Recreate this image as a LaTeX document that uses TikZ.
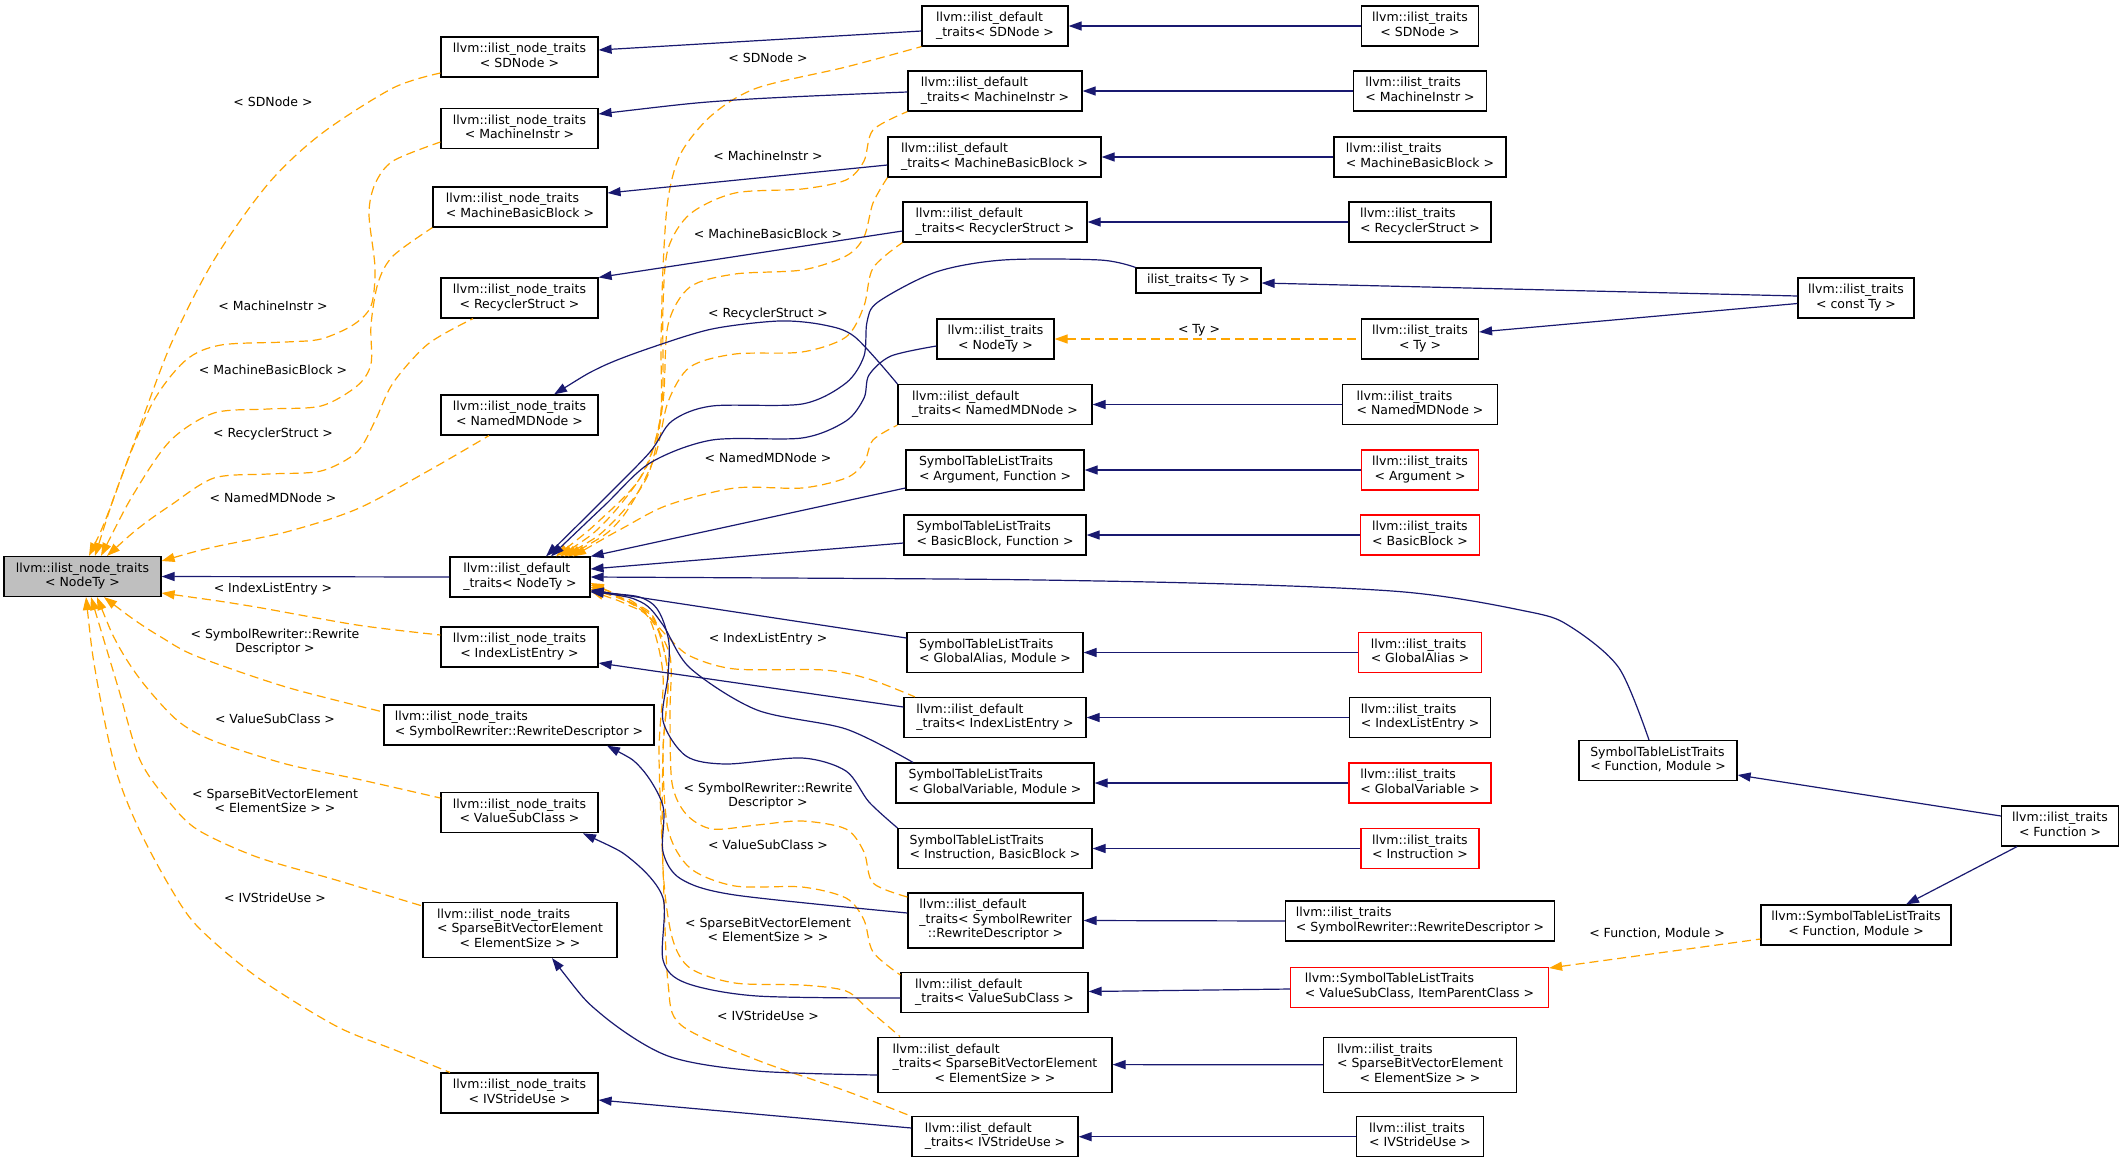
\documentclass[tikz,border=0pt]{standalone}
\usepackage{fontspec}
\newfontfamily\dvs{DejaVu Sans}
\usetikzlibrary{arrows.meta}
\definecolor{navy}{HTML}{191970}
\definecolor{orng}{HTML}{FFA500}
\definecolor{gfill}{HTML}{BFBFBF}
\newcommand\nf{\dvs\fontsize{12.5}{14.5}\selectfont}
\newcommand\twol[2]{\begin{tabular}{@{}l@{}}#1\\\multicolumn{1}{@{}c@{}}{#2}\end{tabular}}
\newcommand\threel[3]{\begin{tabular}{@{}l@{}}#1\\#2\\\multicolumn{1}{@{}c@{}}{#3}\end{tabular}}
\tikzset{
 cls/.style={draw=black, line width=1.2pt, fill=white, inner sep=0pt, font=\nf, minimum height=40pt},
 redcls/.style={cls, draw=red},
 tall/.style={minimum height=55pt},
 single/.style={minimum height=25pt},
 inh/.style={draw=navy, line width=1.2pt, {Triangle[length=13pt,width=9pt]}-},
 tmpl/.style={draw=orng, line width=1.2pt, dash pattern=on 9pt off 5pt, {Triangle[length=13pt,width=9pt]}-},
 lbl/.style={font=\nf, align=center, inner sep=0pt},
}
\begin{document}
\begin{tikzpicture}[x=1pt,y=-1pt]
\useasboundingbox (0,0) rectangle (2124,1163);
\fill[white] (0,0) rectangle (2124,1163);
% ---------- nodes ----------
\node[cls, fill=gfill, minimum width=157pt] (root) at (82.5,576.5) {\twol{llvm::ilist\_node\_traits}{< NodeTy >}};
\node[cls, minimum width=157pt] (ntSD) at (519.5,57) {\twol{llvm::ilist\_node\_traits}{< SDNode >}};
\node[cls, minimum width=157pt] (ntMI) at (519.5,128.5) {\twol{llvm::ilist\_node\_traits}{< MachineInstr >}};
\node[cls, minimum width=174pt] (ntMBB) at (520,207) {\twol{llvm::ilist\_node\_traits}{< MachineBasicBlock >}};
\node[cls, minimum width=157pt] (ntRS) at (519.5,298) {\twol{llvm::ilist\_node\_traits}{< RecyclerStruct >}};
\node[cls, minimum width=157pt] (ntNMD) at (519.5,415) {\twol{llvm::ilist\_node\_traits}{< NamedMDNode >}};
\node[cls, minimum width=140pt] (dtN) at (520,577) {\twol{llvm::ilist\_default}{\_traits< NodeTy >}};
\node[cls, minimum width=157pt] (ntILE) at (519.5,647) {\twol{llvm::ilist\_node\_traits}{< IndexListEntry >}};
\node[cls, minimum width=270pt] (ntSR) at (519,725) {\twol{llvm::ilist\_node\_traits}{< SymbolRewriter::RewriteDescriptor >}};
\node[cls, minimum width=157pt] (ntVS) at (519.5,812.7) {\twol{llvm::ilist\_node\_traits}{< ValueSubClass >}};
\node[cls, tall, minimum width=194pt] (ntSB) at (520,930) {\threel{llvm::ilist\_node\_traits}{< SparseBitVectorElement}{< ElementSize > >}};
\node[cls, minimum width=157pt] (ntIV) at (519.5,1093) {\twol{llvm::ilist\_node\_traits}{< IVStrideUse >}};

\node[cls, minimum width=146pt] (dtSD) at (995,26) {\twol{llvm::ilist\_default}{\_traits< SDNode >}};
\node[cls, minimum width=174pt] (dtMI) at (995,91) {\twol{llvm::ilist\_default}{\_traits< MachineInstr >}};
\node[cls, minimum width=213pt] (dtMBB) at (994.5,157) {\twol{llvm::ilist\_default}{\_traits< MachineBasicBlock >}};
\node[cls, minimum width=184pt] (dtRS) at (995,222) {\twol{llvm::ilist\_default}{\_traits< RecyclerStruct >}};
\node[cls, single, minimum width=125pt] (itTyS) at (1198.5,280.5) {ilist\_traits< Ty >};
\node[cls, minimum width=117pt] (itNodeTy) at (995.5,339) {\twol{llvm::ilist\_traits}{< NodeTy >}};
\node[cls, minimum width=194pt] (dtNMD) at (995,404.5) {\twol{llvm::ilist\_default}{\_traits< NamedMDNode >}};
\node[cls, minimum width=178pt] (stAF) at (995,470) {\twol{SymbolTableListTraits}{< Argument, Function >}};
\node[cls, minimum width=182pt] (stBF) at (995,535) {\twol{SymbolTableListTraits}{< BasicBlock, Function >}};
\node[cls, minimum width=176pt] (stGA) at (995,652.5) {\twol{SymbolTableListTraits}{< GlobalAlias, Module >}};
\node[cls, minimum width=182pt] (dtILE) at (995,717.5) {\twol{llvm::ilist\_default}{\_traits< IndexListEntry >}};
\node[cls, minimum width=198pt] (stGV) at (995,783) {\twol{SymbolTableListTraits}{< GlobalVariable, Module >}};
\node[cls, minimum width=194pt] (stIB) at (995,848.5) {\twol{SymbolTableListTraits}{< Instruction, BasicBlock >}};
\node[cls, tall, minimum width=175pt] (dtSR) at (995.5,920.5) {\threel{llvm::ilist\_default}{\_traits< SymbolRewriter}{::RewriteDescriptor >}};
\node[cls, minimum width=187pt] (dtVS) at (994.5,992.7) {\twol{llvm::ilist\_default}{\_traits< ValueSubClass >}};
\node[cls, tall, minimum width=234pt] (dtSB) at (995,1064.6) {\threel{llvm::ilist\_default}{\_traits< SparseBitVectorElement}{< ElementSize > >}};
\node[cls, minimum width=166pt] (dtIV) at (995,1136.7) {\twol{llvm::ilist\_default}{\_traits< IVStrideUse >}};

\node[cls, minimum width=117pt] (itSD) at (1420,26) {\twol{llvm::ilist\_traits}{< SDNode >}};
\node[cls, minimum width=133pt] (itMI) at (1420,91) {\twol{llvm::ilist\_traits}{< MachineInstr >}};
\node[cls, minimum width=172pt] (itMBB) at (1420,157) {\twol{llvm::ilist\_traits}{< MachineBasicBlock >}};
\node[cls, minimum width=142pt] (itRS) at (1420,222) {\twol{llvm::ilist\_traits}{< RecyclerStruct >}};
\node[cls, minimum width=117pt] (itTy) at (1420,339) {\twol{llvm::ilist\_traits}{< Ty >}};
\node[cls, minimum width=155pt] (itNMD) at (1420,404.5) {\twol{llvm::ilist\_traits}{< NamedMDNode >}};
\node[redcls, minimum width=117pt] (itArg) at (1420,470) {\twol{llvm::ilist\_traits}{< Argument >}};
\node[redcls, minimum width=119pt] (itBB) at (1420,535) {\twol{llvm::ilist\_traits}{< BasicBlock >}};
\node[redcls, minimum width=123pt] (itGA) at (1420,652.5) {\twol{llvm::ilist\_traits}{< GlobalAlias >}};
\node[cls, minimum width=141pt] (itILE) at (1420,717.5) {\twol{llvm::ilist\_traits}{< IndexListEntry >}};
\node[redcls, minimum width=142pt] (itGV) at (1420,783) {\twol{llvm::ilist\_traits}{< GlobalVariable >}};
\node[redcls, minimum width=118pt] (itIn) at (1420,848.5) {\twol{llvm::ilist\_traits}{< Instruction >}};
\node[cls, minimum width=269pt] (itSR) at (1420,921) {\twol{llvm::ilist\_traits}{< SymbolRewriter::RewriteDescriptor >}};
\node[redcls, minimum width=258pt] (stVI) at (1419.5,987.3) {\twol{llvm::SymbolTableListTraits}{< ValueSubClass, ItemParentClass >}};
\node[cls, tall, minimum width=193pt] (itSB) at (1420,1064.8) {\threel{llvm::ilist\_traits}{< SparseBitVectorElement}{< ElementSize > >}};
\node[cls, minimum width=127pt] (itIV) at (1420,1136.7) {\twol{llvm::ilist\_traits}{< IVStrideUse >}};

\node[cls, minimum width=116pt] (itCT) at (1856,298) {\twol{llvm::ilist\_traits}{< const Ty >}};
\node[cls, minimum width=158pt] (stFM) at (1658,760.6) {\twol{SymbolTableListTraits}{< Function, Module >}};
\node[cls, minimum width=190pt] (stFM2) at (1856,925) {\twol{llvm::SymbolTableListTraits}{< Function, Module >}};
\node[cls, minimum width=117pt] (itFn) at (2060,826) {\twol{llvm::ilist\_traits}{< Function >}};

% ---------- labels ----------
\node[lbl] (la1) at (273,102) {< SDNode >};
\node[lbl] (la2) at (273,306) {< MachineInstr >};
\node[lbl] (la3) at (273,370) {< MachineBasicBlock >};
\node[lbl] (la4) at (273,434) {< RecyclerStruct >};
\node[lbl] (la5) at (273,498) {< NamedMDNode >};
\node[lbl] (la6) at (273,589) {< IndexListEntry >};
\node[lbl] (la7) at (275,642) {< SymbolRewriter::Rewrite\\Descriptor >};
\node[lbl] (la8) at (275,719) {< ValueSubClass >};
\node[lbl] (la9) at (275,801) {< SparseBitVectorElement\\< ElementSize > >};
\node[lbl] (la10) at (275,898) {< IVStrideUse >};
\node[lbl] (lb1) at (768,58) {< SDNode >};
\node[lbl] (lb2) at (768,156) {< MachineInstr >};
\node[lbl] (lb3) at (768,234) {< MachineBasicBlock >};
\node[lbl] (lb4) at (768,314) {< RecyclerStruct >};
\node[lbl] (lb5) at (768,458) {< NamedMDNode >};
\node[lbl] (lb6) at (768,639) {< IndexListEntry >};
\node[lbl] (lb7) at (768,796) {< SymbolRewriter::Rewrite\\Descriptor >};
\node[lbl] (lb8) at (768,845) {< ValueSubClass >};
\node[lbl] (lb9) at (768,930) {< SparseBitVectorElement\\< ElementSize > >};
\node[lbl] (lb10) at (768,1016) {< IVStrideUse >};
\node[lbl] (lty) at (1199,330) {< Ty >};
\node[lbl] (lfm) at (1657,933) {< Function, Module >};

% ---------- orange: template instances of ilist_node_traits ----------
\draw[tmpl] plot[smooth] coordinates {(root.north -| 89,0) (107,516) (135,440) (171,344) (214,260) (268,184) (321,134) (393,88) (ntSD.west |- 0,73)};
\draw[tmpl] plot[smooth] coordinates {(root.north -| 95,0) (121,478) (153,402) (186,360) (221,345) (286,342) (321,339) (353,325) (371,306) (375,268) (369,214) (375,184) (393,161) (ntMI.west |- 0,142)};
\draw[tmpl] plot[smooth] coordinates {(root.north -| 101,0) (136,490) (171,440) (214,413) (268,409) (321,406) (357,386) (371,364) (371,325) (378,283) (393,256) (ntMBB.south west)};
\draw[tmpl] plot[smooth] coordinates {(root.north -| 107,0) (140,527) (171,505) (214,478) (268,474) (321,471) (357,452) (375,421) (393,383) (428,344) (ntRS.south -| 473,0)};
\draw[tmpl] plot[smooth] coordinates {(root.east |- 0,561) (214,547) (286,532) (357,509) (428,471) (ntNMD.south -| 489,0)};
\draw[tmpl] plot[smooth] coordinates {(root.east |- 0,593) (250,606) (357,625) (ntILE.west |- 0,635)};
\draw[tmpl] plot[smooth] coordinates {(root.south -| 104,0) (136,621) (161,637) (196,656) (286,687) (ntSR.west |- 0,712)};
\draw[tmpl] plot[smooth] coordinates {(root.south -| 97,0) (118,645) (143,683) (178,721) (214,741) (286,764) (357,779) (ntVS.west |- 0,798)};
\draw[tmpl] plot[smooth] coordinates {(root.south -| 91,0) (118,687) (140,760) (170,803) (198,830) (257,857) (336,880) (ntSB.west |- 0,906)};
\draw[tmpl] plot[smooth] coordinates {(root.south -| 86,0) (96,675) (115,767) (138,827) (170,887) (198,927) (257,977) (336,1026) (395,1050) (ntIV.north -| 450,0)};

% ---------- orange: template instances of ilist_default_traits ----------
\draw[tmpl] plot[smooth] coordinates {(dtN.north -| 556,0) (600,520) (640,478) (660,421) (661,344) (663,268) (668,199) (681,153) (712,115) (757,88) (846,67) (dtSD.south west)};
\draw[tmpl] plot[smooth] coordinates {(dtN.north -| 560,0) (605,522) (645,470) (660,420) (663,383) (663,306) (668,249) (690,214) (735,193) (802,189) (846,180) (864,161) (873,130) (dtMI.south west)};
\draw[tmpl] plot[smooth] coordinates {(dtN.north -| 564,0) (610,525) (648,475) (663,402) (668,325) (690,287) (735,274) (802,270) (846,256) (864,237) (873,203) (dtMBB.south west)};
\draw[tmpl] plot[smooth] coordinates {(dtN.north -| 568,0) (620,520) (654,459) (668,402) (690,367) (735,354) (802,352) (846,337) (864,306) (873,268) (dtRS.south west)};
\draw[tmpl] plot[smooth] coordinates {(dtN.north -| 573,0) (623,528) (668,505) (735,488) (802,488) (846,478) (864,463) (873,440) (dtNMD.south west)};
\draw[tmpl] plot[smooth] coordinates {(dtN.east |- 0,583) (620,597) (645,613) (668,637) (690,656) (735,669) (824,670) (869,679) (dtILE.north -| 915,0)};
\draw[tmpl] plot[smooth] coordinates {(dtN.east |- 0,585) (630,600) (650,618) (670,656) (670,714) (672,783) (686,814) (712,829) (757,825) (802,821) (846,829) (864,852) (873,883) (dtSR.west |- 0,897)};
\draw[tmpl] plot[smooth] coordinates {(dtN.east |- 0,587) (630,602) (654,618) (668,675) (663,752) (668,829) (690,868) (735,886) (802,887) (846,898) (864,920) (873,952) (dtVS.west |- 0,975)};
\draw[tmpl] plot[smooth] coordinates {(dtN.east |- 0,589) (630,603) (654,620) (668,675) (663,752) (663,868) (672,937) (690,968) (735,983) (802,985) (846,991) (869,1010) (dtSB.north -| 900,0)};
\draw[tmpl] plot[smooth] coordinates {(dtN.east |- 0,591) (628,605) (650,620) (663,675) (659,752) (663,868) (668,983) (681,1025) (757,1060) (846,1091) (dtIV.north -| 911,0)};

% ---------- navy: inheritance ----------
\draw[inh] (root.east) -- (dtN.west);
\draw[inh] (ntSD.east |- 0,50) -- (dtSD.west |- 0,31);
\draw[inh] plot[smooth] coordinates {(ntMI.east |- 0,114) (735,100) (dtMI.west |- 0,92)};
\draw[inh] (ntMBB.east |- 0,193) -- (dtMBB.west |- 0,165);
\draw[inh] (ntRS.north east) -- (dtRS.west |- 0,231);
\draw[inh] plot[smooth] coordinates {(ntNMD.north -| 554,0) (601,367) (650,348) (712,329) (779,321) (824,325) (855,337) (dtNMD.north west)};
\draw[inh] plot[smooth] coordinates {(dtN.north -| 546,0) (605,498) (650,452) (672,421) (712,406) (802,404) (846,383) (864,356) (867,322) (878,302) (936,272) (1003,260) (1100,260) (itTyS.north west)};
\draw[inh] plot[smooth] coordinates {(dtN.north -| 551,0) (605,505) (650,463) (712,440) (802,438) (846,421) (864,398) (869,375) (891,356) (itNodeTy.west |- 0,346)};
\draw[inh] (dtN.north east) -- (stAF.west |- 0,488);
\draw[inh] (dtN.east |- 0,569) -- (stBF.west |- 0,543);
\draw[inh] plot[smooth] coordinates {(dtN.east |- 0,577) (1100,581) (1392,591) (1530,612) (1571,627) (1619,668) (stFM.north -| 1649,0)};
\draw[inh] (dtN.east |- 0,590) -- (stGA.west |- 0,638);
\draw[inh] plot[smooth] coordinates {(dtN.east |- 0,591) (641,602) (663,625) (690,668) (757,710) (846,729) (stGV.north -| 913,0)};
\draw[inh] plot[smooth] coordinates {(dtN.east |- 0,592) (650,602) (668,637) (668,675) (663,721) (686,756) (726,764) (802,758) (846,771) (869,802) (stIB.north west)};
\draw[inh] (ntILE.east |- 0,663) -- (dtILE.west |- 0,707);
\draw[inh] plot[smooth] coordinates {(ntSR.south -| 607,0) (641,768) (663,806) (663,852) (681,879) (735,895) (dtSR.west |- 0,913)};
\draw[inh] plot[smooth] coordinates {(ntVS.south -| 583,0) (632,860) (663,898) (663,960) (686,983) (757,996) (dtVS.west |- 0,998)};
\draw[inh] plot[smooth] coordinates {(ntSB.south -| 552,0) (601,1014) (668,1056) (757,1071) (dtSB.west |- 0,1075)};
\draw[inh] (ntIV.east |- 0,1100) -- (dtIV.west |- 0,1128);

\draw[inh] (dtSD.east) -- (itSD.west);
\draw[inh] (dtMI.east) -- (itMI.west);
\draw[inh] (dtMBB.east) -- (itMBB.west);
\draw[inh] (dtRS.east) -- (itRS.west);
\draw[inh] (itTyS.east |- 0,283) -- (itCT.west |- 0,296);
\draw[inh] (itTy.east |- 0,332) -- (itCT.west |- 0,303.5);
\draw[tmpl] (itNodeTy.east) -- (itTy.west);
\draw[inh] (dtNMD.east) -- (itNMD.west);
\draw[inh] (stAF.east) -- (itArg.west);
\draw[inh] (stBF.east) -- (itBB.west);
\draw[inh] (stGA.east) -- (itGA.west);
\draw[inh] (dtILE.east) -- (itILE.west);
\draw[inh] (stGV.east) -- (itGV.west);
\draw[inh] (stIB.east) -- (itIn.west);
\draw[inh] (dtSR.east) -- (itSR.west);
\draw[inh] (dtVS.east |- 0,991.5) -- (stVI.west |- 0,989);
\draw[inh] (dtSB.east) -- (itSB.west);
\draw[inh] (dtIV.east) -- (itIV.west);
\draw[tmpl] (stVI.east |- 0,968) -- (stFM2.west |- 0,939);
\draw[inh] (stFM.east |- 0,775) -- (itFn.west |- 0,816);
\draw[inh] (stFM2.north -| 1906,0) -- (itFn.south -| 2017,0);
\end{tikzpicture}
\end{document}
